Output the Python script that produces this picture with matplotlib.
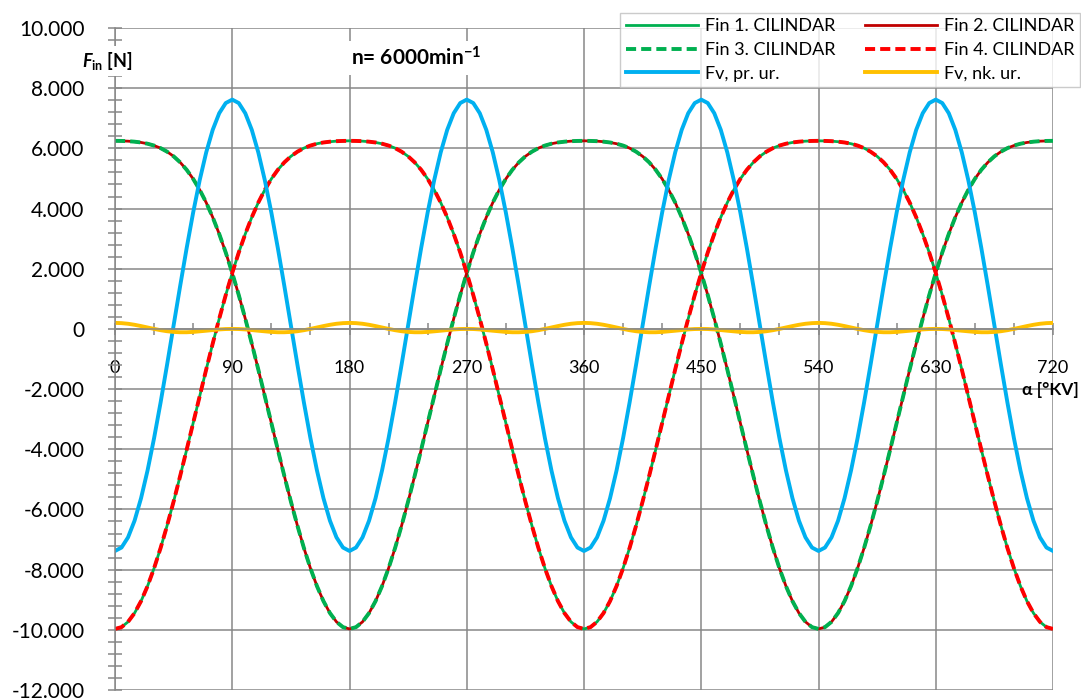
import matplotlib
matplotlib.use('Agg')
import matplotlib.pyplot as plt
from matplotlib.ticker import MultipleLocator, FuncFormatter
import numpy as np

plt.rcParams['font.family'] = ['Lato', 'DejaVu Sans']
plt.rcParams['mathtext.fontset'] = 'custom'
plt.rcParams['mathtext.rm'] = 'Lato:bold'
plt.rcParams['mathtext.it'] = 'Lato:italic:bold'
plt.rcParams['mathtext.bf'] = 'Lato:bold'

# crank angle, deg (step 5)
alfa = np.arange(0, 721, 5)

# cylinders 1 and 4 (in phase)
fin_1 = [-9970, -9911, -9735, -9444, -9046, -8546, -7953, -7280, -6535, -5735, -4890, -4016,
         -3125, -2231, -1349, -488, 340, 1125, 1860, 2539, 3156, 3710, 4199, 4623,
         4985, 5288, 5536, 5735, 5889, 6008, 6093, 6154, 6196, 6222, 6239, 6247, 6250,
         6247, 6239, 6222, 6196, 6154, 6093, 6008, 5889, 5735, 5536, 5288, 4985,
         4623, 4199, 3710, 3156, 2539, 1860, 1125, 340, -488, -1349, -2231, -3125,
         -4016, -4890, -5735, -6535, -7280, -7953, -8546, -9046, -9444, -9735, -9911, -9970,
         -9911, -9735, -9444, -9046, -8546, -7953, -7280, -6535, -5735, -4890, -4016,
         -3125, -2231, -1349, -488, 340, 1125, 1860, 2539, 3156, 3710, 4199, 4623,
         4985, 5288, 5536, 5735, 5889, 6008, 6093, 6154, 6196, 6222, 6239, 6247, 6250,
         6247, 6239, 6222, 6196, 6154, 6093, 6008, 5889, 5735, 5536, 5288, 4985,
         4623, 4199, 3710, 3156, 2539, 1860, 1125, 340, -488, -1349, -2231, -3125,
         -4016, -4890, -5735, -6535, -7280, -7953, -8546, -9046, -9444, -9735, -9911, -9970]
fin_4 = list(fin_1)

# cylinders 2 and 3 (in phase)
fin_2 = [6250, 6247, 6239, 6222, 6196, 6154, 6093, 6008, 5889, 5735, 5536, 5288,
         4985, 4623, 4199, 3710, 3156, 2539, 1860, 1125, 340, -488, -1349, -2231,
         -3125, -4016, -4890, -5735, -6535, -7280, -7953, -8546, -9046, -9444, -9735, -9911, -9970,
         -9911, -9735, -9444, -9046, -8546, -7953, -7280, -6535, -5735, -4890, -4016,
         -3125, -2231, -1349, -488, 340, 1125, 1860, 2539, 3156, 3710, 4199, 4623,
         4985, 5288, 5536, 5735, 5889, 6008, 6093, 6154, 6196, 6222, 6239, 6247, 6250,
         6247, 6239, 6222, 6196, 6154, 6093, 6008, 5889, 5735, 5536, 5288,
         4985, 4623, 4199, 3710, 3156, 2539, 1860, 1125, 340, -488, -1349, -2231,
         -3125, -4016, -4890, -5735, -6535, -7280, -7953, -8546, -9046, -9444, -9735, -9911, -9970,
         -9911, -9735, -9444, -9046, -8546, -7953, -7280, -6535, -5735, -4890, -4016,
         -3125, -2231, -1349, -488, 340, 1125, 1860, 2539, 3156, 3710, 4199, 4623,
         4985, 5288, 5536, 5735, 5889, 6008, 6093, 6154, 6196, 6222, 6239, 6247, 6250]
fin_3 = list(fin_2)

fv_pr = [-7380, -7266, -6928, -6375, -5625, -4701, -3630, -2445, -1182, 120,
         1422, 2685, 3870, 4941, 5865, 6615, 7168, 7506, 7620,
         7506, 7168, 6615, 5865, 4941, 3870, 2685, 1422, 120,
         -1182, -2445, -3630, -4701, -5625, -6375, -6928, -7266, -7380,
         -7266, -6928, -6375, -5625, -4701, -3630, -2445, -1182, 120,
         1422, 2685, 3870, 4941, 5865, 6615, 7168, 7506, 7620,
         7506, 7168, 6615, 5865, 4941, 3870, 2685, 1422, 120,
         -1182, -2445, -3630, -4701, -5625, -6375, -6928, -7266, -7380,
         -7266, -6928, -6375, -5625, -4701, -3630, -2445, -1182, 120,
         1422, 2685, 3870, 4941, 5865, 6615, 7168, 7506, 7620,
         7506, 7168, 6615, 5865, 4941, 3870, 2685, 1422, 120,
         -1182, -2445, -3630, -4701, -5625, -6375, -6928, -7266, -7380,
         -7266, -6928, -6375, -5625, -4701, -3630, -2445, -1182, 120,
         1422, 2685, 3870, 4941, 5865, 6615, 7168, 7506, 7620,
         7506, 7168, 6615, 5865, 4941, 3870, 2685, 1422, 120,
         -1182, -2445, -3630, -4701, -5625, -6375, -6928, -7266, -7380]

fv_nk = [200, 192, 171, 137, 94, 47, 0, -43, -77, -100, -111, -111, -100, -81, -60, -37, -17, -4, 0,
         -4, -17, -37, -60, -81, -100, -111, -111, -100, -77, -43, 0, 47, 94, 137, 171, 192, 200,
         192, 171, 137, 94, 47, 0, -43, -77, -100, -111, -111, -100, -81, -60, -37, -17, -4, 0,
         -4, -17, -37, -60, -81, -100, -111, -111, -100, -77, -43, 0, 47, 94, 137, 171, 192, 200,
         192, 171, 137, 94, 47, 0, -43, -77, -100, -111, -111, -100, -81, -60, -37, -17, -4, 0,
         -4, -17, -37, -60, -81, -100, -111, -111, -100, -77, -43, 0, 47, 94, 137, 171, 192, 200,
         192, 171, 137, 94, 47, 0, -43, -77, -100, -111, -111, -100, -81, -60, -37, -17, -4, 0,
         -4, -17, -37, -60, -81, -100, -111, -111, -100, -77, -43, 0, 47, 94, 137, 171, 192, 200]

labels = ['Fin 1. CILINDAR', 'Fin 2. CILINDAR', 'Fin 3. CILINDAR',
          'Fin 4. CILINDAR', 'Fv, pr. ur.', 'Fv, nk. ur.']

W, H = 1081, 700
grid_c = '#878787'

fig = plt.figure(figsize=(W / 100, H / 100), dpi=100)
ax = fig.add_axes([115 / W, 1 - 690 / H, (1053 - 115) / W, (690 - 28) / H])

l1, = ax.plot(alfa, fin_1, color='#00B050', lw=2.0)
l2, = ax.plot(alfa, fin_2, color='#C00000', lw=2.0)
l3, = ax.plot(alfa, fin_3, color='#00B050', lw=2.8, dashes=(2.6, 1.3))
l4, = ax.plot(alfa, fin_4, color='#FF0000', lw=2.8, dashes=(2.6, 1.3))
l5, = ax.plot(alfa, fv_pr, color='#00B0F0', lw=2.8)
l6, = ax.plot(alfa, fv_nk, color='#FFC000', lw=2.8)

ax.set_xlim(0, 720)
ax.set_ylim(-12000, 10000)
ax.xaxis.set_major_locator(MultipleLocator(90))
ax.xaxis.set_minor_locator(MultipleLocator(30))
ax.yaxis.set_major_locator(MultipleLocator(2000))
ax.yaxis.set_minor_locator(MultipleLocator(400))
ax.yaxis.set_major_formatter(FuncFormatter(lambda v, p: f'{int(v):,}'.replace(',', '.')))

ax.spines['top'].set_visible(False)
ax.spines['right'].set_visible(False)
ax.spines['bottom'].set_position(('data', 0))
for s in ('left', 'bottom'):
    ax.spines[s].set_color(grid_c)
    ax.spines[s].set_linewidth(1.1)

ax.grid(True, which='major', color=grid_c, lw=1.1)
ax.set_axisbelow(True)

ax.tick_params(axis='both', which='both', direction='inout', color=grid_c, width=1.1)
ax.tick_params(axis='x', which='both', length=9, labelsize=13, pad=18)
ax.tick_params(axis='y', which='both', length=10, labelsize=15, pad=17)

# axis / title labels sit on white boxes that hide the lines behind them
fig.text(107 / W, 1 - 61 / H, r'$F_{\mathrm{in}}$ [N]', ha='center', va='center',
         fontsize=13, fontweight='bold', zorder=5,
         bbox=dict(facecolor='white', edgecolor='none', pad=3))
fig.text(416 / W, 1 - 58 / H, r'n= 6000min$^{\mathrm{-1}}$', ha='center', va='center',
         fontsize=15, fontweight='bold', zorder=5,
         bbox=dict(facecolor='white', edgecolor='none', pad=4))
fig.text(1079 / W, 1 - 390 / H, 'α [°KV]', ha='right', va='center',
         fontsize=12.5, fontweight='bold')

leg = fig.legend([l1, l3, l5, l2, l4, l6],
                 [labels[0], labels[2], labels[4], labels[1], labels[3], labels[5]],
                 ncol=2, loc='upper right', bbox_to_anchor=(1080 / W, 1 - 13 / H),
                 fontsize=13, frameon=True, fancybox=False, edgecolor='#BFBFBF',
                 handlelength=4.0, handletextpad=0.4, columnspacing=1.6,
                 labelspacing=0.42, borderpad=0.3, borderaxespad=0)
leg.get_frame().set_linewidth(1.0)

fig.savefig('out.png', dpi=100)
